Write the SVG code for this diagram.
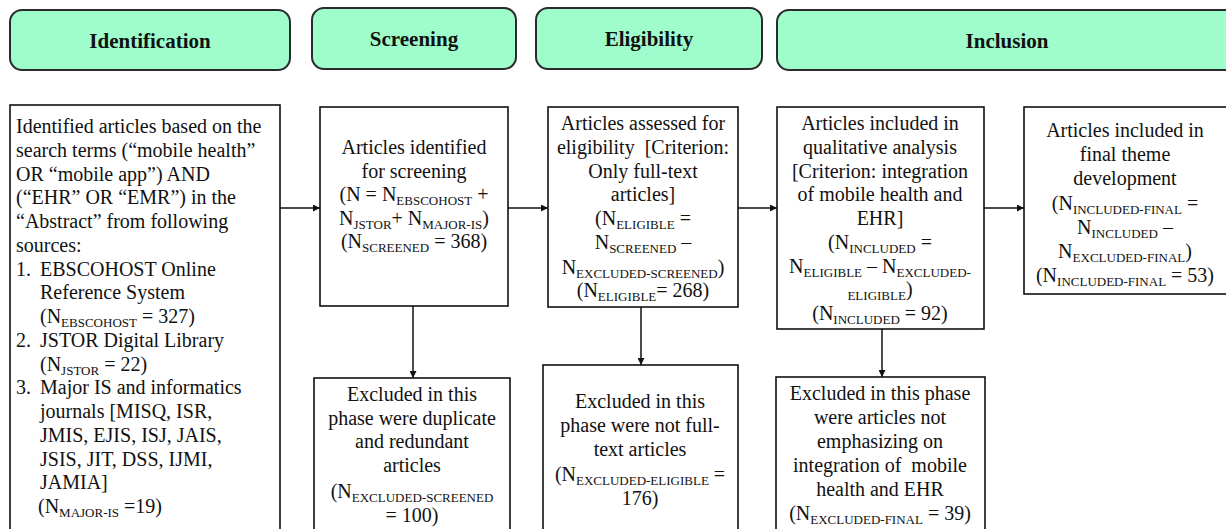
<svg xmlns="http://www.w3.org/2000/svg" width="1226" height="529" viewBox="0 0 1226 529">
  <defs>
    <style>
      .hdr { fill: #9EFDCB; stroke: #2b2b2b; stroke-width: 2; }
      .hdr-t { font-size: 21px; font-weight: bold; fill: #111; text-anchor: middle; }
      .box { fill: #ffffff; stroke: #111; stroke-width: 1.6; }
      .t { font-size: 20px; fill: #111; }
      .c { text-anchor: middle; }
      .s { font-size: 13px; }
      .conn { stroke: #111; stroke-width: 1.5; fill: none; marker-end: url(#arrow); }
    </style>
    <marker id="arrow" viewBox="0 0 10 10" refX="10" refY="5" markerWidth="7" markerHeight="7" markerUnits="userSpaceOnUse" orient="auto">
      <path d="M0,0 L10,5 L0,10 z" fill="#111"/>
    </marker>
  </defs>
  <rect width="1226" height="529" fill="#ffffff"/>

  <g font-family="Liberation Serif, DejaVu Serif, serif">
  <!-- phase headers -->
  <g id="hdr-identification">
    <rect class="hdr" x="10" y="10" width="280" height="60" rx="12"/>
    <text class="hdr-t" x="150" y="48">Identification</text>
  </g>
  <g id="hdr-screening">
    <rect class="hdr" x="312" y="8" width="204" height="61" rx="12"/>
    <text class="hdr-t" x="414" y="46">Screening</text>
  </g>
  <g id="hdr-eligibility">
    <rect class="hdr" x="536" y="8" width="226" height="61" rx="12"/>
    <text class="hdr-t" x="649" y="46">Eligibility</text>
  </g>
  <g id="hdr-inclusion">
    <rect class="hdr" x="777" y="10" width="470" height="60" rx="12"/>
    <text class="hdr-t" x="1007" y="48">Inclusion</text>
  </g>

  <!-- connectors -->
  <g id="connectors">
    <line class="conn" x1="280" y1="208" x2="320" y2="208"/>
    <line class="conn" x1="508" y1="208" x2="548" y2="208"/>
    <line class="conn" x1="738" y1="208" x2="777" y2="208"/>
    <line class="conn" x1="984" y1="208" x2="1024" y2="208"/>
    <line class="conn" x1="413" y1="306" x2="413" y2="378"/>
    <line class="conn" x1="641" y1="307" x2="641" y2="365"/>
    <line class="conn" x1="882" y1="329" x2="882" y2="377"/>
  </g>

  <!-- identification -->
  <g id="identified">
    <rect class="box" x="10" y="105" width="270" height="440"/>
    <text class="t" x="16" y="133">Identified articles based on the</text>
    <text class="t" x="16" y="156.8">search terms (“mobile health”</text>
    <text class="t" x="16" y="180.5">OR “mobile app”) AND</text>
    <text class="t" x="16" y="204.3">(“EHR” OR “EMR”) in the</text>
    <text class="t" x="16" y="228">“Abstract” from following</text>
    <text class="t" x="16" y="251.8">sources:</text>
    <text class="t" x="16" y="275.5">1.</text>
    <text class="t" x="40" y="275.5">EBSCOHOST Online</text>
    <text class="t" x="40" y="299.3">Reference System</text>
    <text class="t" x="40" y="323">(N<tspan class="s" dy="4">EBSCOHOST</tspan><tspan dy="-4"> = 327)</tspan></text>
    <text class="t" x="16" y="346.8">2.</text>
    <text class="t" x="40" y="346.8">JSTOR Digital Library</text>
    <text class="t" x="40" y="370.5">(N<tspan class="s" dy="4">JSTOR</tspan><tspan dy="-4"> = 22)</tspan></text>
    <text class="t" x="16" y="394.3">3.</text>
    <text class="t" x="40" y="394.3">Major IS and informatics</text>
    <text class="t" x="40" y="418">journals [MISQ, ISR,</text>
    <text class="t" x="40" y="441.8">JMIS, EJIS, ISJ, JAIS,</text>
    <text class="t" x="40" y="465.5">JSIS, JIT, DSS, IJMI,</text>
    <text class="t" x="40" y="489.3">JAMIA]</text>
    <text class="t" x="38" y="513">(N<tspan class="s" dy="4">MAJOR-IS</tspan><tspan dy="-4"> =19)</tspan></text>
  </g>

  <!-- screening -->
  <g id="screened">
    <rect class="box" x="320" y="107" width="188" height="199"/>
    <text class="t c" x="414" y="154">Articles identified</text>
    <text class="t c" x="414" y="177.5">for screening</text>
    <text class="t c" x="414" y="201">(N = N<tspan class="s" dy="4">EBSCOHOST</tspan><tspan dy="-4"> +</tspan></text>
    <text class="t c" x="414" y="224.5">N<tspan class="s" dy="4">JSTOR</tspan><tspan dy="-4">+ N</tspan><tspan class="s" dy="4">MAJOR-IS</tspan><tspan dy="-4">)</tspan></text>
    <text class="t c" x="414" y="248">(N<tspan class="s" dy="4">SCREENED</tspan><tspan dy="-4"> = 368)</tspan></text>
  </g>
  <g id="excluded-screened">
    <rect class="box" x="314" y="378" width="196" height="170"/>
    <text class="t c" x="412" y="401">Excluded in this</text>
    <text class="t c" x="412" y="424.5">phase were duplicate</text>
    <text class="t c" x="412" y="448">and redundant</text>
    <text class="t c" x="412" y="471.5">articles</text>
    <text class="t c" x="412" y="498">(N<tspan class="s" dy="4">EXCLUDED-SCREENED</tspan></text>
    <text class="t c" x="412" y="522">= 100)</text>
  </g>

  <!-- eligibility -->
  <g id="eligible">
    <rect class="box" x="548" y="107" width="190" height="200"/>
    <text class="t c" x="643" y="130">Articles assessed for</text>
    <text class="t c" x="643" y="154">eligibility&#160; [Criterion:</text>
    <text class="t c" x="643" y="177.5">Only full-text</text>
    <text class="t c" x="643" y="201">articles]</text>
    <text class="t c" x="643" y="225">(N<tspan class="s" dy="4">ELIGIBLE</tspan><tspan dy="-4"> =</tspan></text>
    <text class="t c" x="643" y="249">N<tspan class="s" dy="4">SCREENED</tspan><tspan dy="-4"> –</tspan></text>
    <text class="t c" x="643" y="274">N<tspan class="s" dy="4">EXCLUDED-SCREENED</tspan><tspan dy="-4">)</tspan></text>
    <text class="t c" x="643" y="297">(N<tspan class="s" dy="4">ELIGIBLE</tspan><tspan dy="-4">= 268)</tspan></text>
  </g>
  <g id="excluded-eligible">
    <rect class="box" x="543" y="365" width="195" height="180"/>
    <text class="t c" x="640" y="408">Excluded in this</text>
    <text class="t c" x="640" y="432">phase were not full-</text>
    <text class="t c" x="640" y="456">text articles</text>
    <text class="t c" x="640" y="481">(N<tspan class="s" dy="4">EXCLUDED-ELIGIBLE</tspan><tspan dy="-4"> =</tspan></text>
    <text class="t c" x="640" y="505">176)</text>
  </g>

  <!-- inclusion -->
  <g id="included">
    <rect class="box" x="777" y="107" width="207" height="222"/>
    <text class="t c" x="880" y="130">Articles included in</text>
    <text class="t c" x="880" y="154">qualitative analysis</text>
    <text class="t c" x="880" y="177.5">[Criterion: integration</text>
    <text class="t c" x="880" y="201">of mobile health and</text>
    <text class="t c" x="880" y="224.5">EHR]</text>
    <text class="t c" x="880" y="249">(N<tspan class="s" dy="4">INCLUDED</tspan><tspan dy="-4"> =</tspan></text>
    <text class="t c" x="880" y="273">N<tspan class="s" dy="4">ELIGIBLE</tspan><tspan dy="-4"> – N</tspan><tspan class="s" dy="4">EXCLUDED-</tspan></text>
    <text class="t c" x="880" y="296"><tspan class="s" dy="4">ELIGIBLE</tspan><tspan dy="-4">)</tspan></text>
    <text class="t c" x="880" y="320">(N<tspan class="s" dy="4">INCLUDED</tspan><tspan dy="-4"> = 92)</tspan></text>
  </g>
  <g id="excluded-final">
    <rect class="box" x="776" y="377" width="209" height="170"/>
    <text class="t c" x="880" y="400">Excluded in this phase</text>
    <text class="t c" x="880" y="424">were articles not</text>
    <text class="t c" x="880" y="448">emphasizing on</text>
    <text class="t c" x="880" y="472">integration of&#160; mobile</text>
    <text class="t c" x="880" y="496">health and EHR</text>
    <text class="t c" x="880" y="520">(N<tspan class="s" dy="4">EXCLUDED-FINAL</tspan><tspan dy="-4"> = 39)</tspan></text>
  </g>

  <!-- final -->
  <g id="included-final">
    <rect class="box" x="1024" y="107" width="210" height="187"/>
    <text class="t c" x="1125" y="137">Articles included in</text>
    <text class="t c" x="1125" y="161">final theme</text>
    <text class="t c" x="1125" y="185">development</text>
    <text class="t c" x="1125" y="210">(N<tspan class="s" dy="4">INCLUDED-FINAL</tspan><tspan dy="-4"> =</tspan></text>
    <text class="t c" x="1125" y="234">N<tspan class="s" dy="4">INCLUDED</tspan><tspan dy="-4"> –</tspan></text>
    <text class="t c" x="1125" y="258">N<tspan class="s" dy="4">EXCLUDED-FINAL</tspan><tspan dy="-4">)</tspan></text>
    <text class="t c" x="1125" y="282">(N<tspan class="s" dy="4">INCLUDED-FINAL</tspan><tspan dy="-4"> = 53)</tspan></text>
  </g>
  </g>
</svg>
